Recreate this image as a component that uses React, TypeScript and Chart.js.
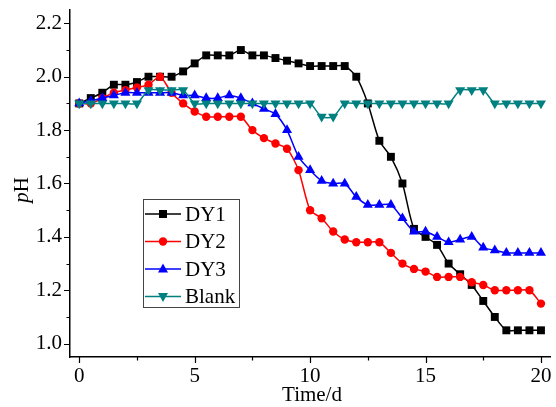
import { useEffect, useRef } from 'react';
import { Chart, registerables } from 'chart.js';

Chart.register(...registerables);

const FONT = '"Liberation Serif", "Times New Roman", serif';

const timeDays = [
  0, 0.5, 1, 1.5, 2, 2.5, 3, 3.5, 4, 4.5,
  5, 5.5, 6, 6.5, 7, 7.5, 8, 8.5, 9, 9.5,
  10, 10.5, 11, 11.5, 12, 12.5, 13, 13.5, 14, 14.5,
  15, 15.5, 16, 16.5, 17, 17.5, 18, 18.5, 19, 19.5, 20,
];

const dy1 = [
  1.90, 1.92, 1.94, 1.97, 1.97, 1.98, 2.00, 2.00, 2.00, 2.02,
  2.05, 2.08, 2.08, 2.08, 2.10, 2.08, 2.08, 2.07, 2.06, 2.05,
  2.04, 2.04, 2.04, 2.04, 2.00, 1.90, 1.76, 1.70, 1.60, 1.43,
  1.40, 1.37, 1.30, 1.26, 1.22, 1.16, 1.10, 1.05, 1.05, 1.05, 1.05,
];

const dy2 = [
  1.90, 1.90, 1.92, 1.94, 1.95, 1.96, 1.97, 2.00, 1.94, 1.90,
  1.87, 1.85, 1.85, 1.85, 1.85, 1.80, 1.77, 1.75, 1.73, 1.65,
  1.50, 1.47, 1.42, 1.39, 1.38, 1.38, 1.38, 1.34, 1.30, 1.28,
  1.27, 1.25, 1.25, 1.25, 1.23, 1.22, 1.20, 1.20, 1.20, 1.20, 1.15,
];

const dy3 = [
  1.90, 1.91, 1.92, 1.93, 1.94, 1.94, 1.94, 1.94, 1.94, 1.93,
  1.93, 1.92, 1.92, 1.93, 1.92, 1.90, 1.88, 1.86, 1.80, 1.70,
  1.65, 1.61, 1.60, 1.60, 1.55, 1.52, 1.52, 1.52, 1.47, 1.42,
  1.42, 1.40, 1.38, 1.39, 1.40, 1.36, 1.35, 1.34, 1.34, 1.34, 1.34,
];

const blank = [
  1.90, 1.90, 1.90, 1.90, 1.90, 1.90, 1.95, 1.95, 1.95, 1.95,
  1.90, 1.90, 1.90, 1.90, 1.90, 1.90, 1.90, 1.90, 1.90, 1.90,
  1.90, 1.85, 1.85, 1.90, 1.90, 1.90, 1.90, 1.90, 1.90, 1.90,
  1.90, 1.90, 1.90, 1.95, 1.95, 1.95, 1.90, 1.90, 1.90, 1.90, 1.90,
];

const seriesNames = ['DY1', 'DY2', 'DY3', 'Blank'];
const seriesColors = ['#000000', '#ff0000', '#0000ff', '#008080'];
const seriesMarkers = ['rect', 'circle', 'triangle', 'triangleDown'];
const seriesValues = [dy1, dy2, dy3, blank];

const xMajorTicks = [0, 5, 10, 15, 20];
const xMinorTicks = [2.5, 7.5, 12.5, 17.5];
const yMajorTicks = [1.0, 1.2, 1.4, 1.6, 1.8, 2.0, 2.2];
const yMinorTicks = [1.1, 1.3, 1.5, 1.7, 1.9, 2.1];

const xTitle = 'Time/d';
const yTitleItalic = 'p';
const yTitleRest = 'H';

function drawMarker(ctx: CanvasRenderingContext2D, kind: string, x: number, y: number, color: string) {
  ctx.fillStyle = color;
  ctx.beginPath();
  if (kind === 'rect') {
    ctx.rect(x - 4, y - 4, 8, 8);
  } else if (kind === 'circle') {
    ctx.arc(x, y, 4.2, 0, Math.PI * 2);
  } else if (kind === 'triangle') {
    ctx.moveTo(x, y - 5.5);
    ctx.lineTo(x + 5, y + 3.5);
    ctx.lineTo(x - 5, y + 3.5);
    ctx.closePath();
  } else {
    ctx.moveTo(x, y + 5.5);
    ctx.lineTo(x + 5, y - 3.5);
    ctx.lineTo(x - 5, y - 3.5);
    ctx.closePath();
  }
  ctx.fill();
}

const decorPlugin = {
  id: 'decor',
  afterDraw(chart: any) {
    const ctx: CanvasRenderingContext2D = chart.ctx;
    const xs = chart.scales.x;
    const ys = chart.scales.y;
    const { left, bottom } = chart.chartArea;
    ctx.save();
    ctx.strokeStyle = '#000';
    ctx.lineWidth = 1.2;
    ctx.beginPath();
    xMajorTicks.forEach((v) => {
      const px = Math.round(xs.getPixelForValue(v)) + 0.5;
      ctx.moveTo(px, bottom);
      ctx.lineTo(px, bottom + 6);
    });
    xMinorTicks.forEach((v) => {
      const px = Math.round(xs.getPixelForValue(v)) + 0.5;
      ctx.moveTo(px, bottom);
      ctx.lineTo(px, bottom + 3.5);
    });
    yMajorTicks.forEach((v) => {
      const py = Math.round(ys.getPixelForValue(v)) + 0.5;
      ctx.moveTo(left, py);
      ctx.lineTo(left - 6, py);
    });
    yMinorTicks.forEach((v) => {
      const py = Math.round(ys.getPixelForValue(v)) + 0.5;
      ctx.moveTo(left, py);
      ctx.lineTo(left - 3.5, py);
    });
    ctx.stroke();

    // axis titles
    ctx.fillStyle = '#000';
    ctx.textBaseline = 'middle';
    ctx.textAlign = 'center';
    ctx.font = `21px ${FONT}`;
    ctx.fillText(xTitle, 312, 395);

    ctx.save();
    ctx.translate(22, 190);
    ctx.rotate(-Math.PI / 2);
    ctx.textAlign = 'left';
    ctx.font = `italic 21px ${FONT}`;
    const w1 = ctx.measureText(yTitleItalic).width;
    ctx.font = `21px ${FONT}`;
    const w2 = ctx.measureText(yTitleRest).width;
    const start = -(w1 + w2) / 2;
    ctx.font = `italic 21px ${FONT}`;
    ctx.fillText(yTitleItalic, start, 0);
    ctx.font = `21px ${FONT}`;
    ctx.fillText(yTitleRest, start + w1, 0);
    ctx.restore();

    // legend
    const bx = 143.5, by = 199.5, bw = 96, bh = 108;
    ctx.fillStyle = '#fff';
    ctx.fillRect(bx, by, bw, bh);
    ctx.strokeStyle = '#444';
    ctx.lineWidth = 1;
    ctx.strokeRect(bx, by, bw, bh);
    ctx.font = `21px ${FONT}`;
    ctx.textAlign = 'left';
    ctx.textBaseline = 'middle';
    seriesNames.forEach((name, i) => {
      const ry = 214 + i * 27.5;
      ctx.strokeStyle = seriesColors[i];
      ctx.lineWidth = 1.5;
      ctx.beginPath();
      ctx.moveTo(145, ry);
      ctx.lineTo(181, ry);
      ctx.stroke();
      drawMarker(ctx, seriesMarkers[i], 163, ry, seriesColors[i]);
      ctx.fillStyle = '#000';
      ctx.fillText(name, 185, ry + 1);
    });
    ctx.restore();
  },
};

export default function App() {
  const ref = useRef<HTMLCanvasElement | null>(null);

  useEffect(() => {
    if (!ref.current) return;
    const pointStyles: any = {
      rect: { style: 'rect', radius: 5.6, rotation: 0 },
      circle: { style: 'circle', radius: 4.2, rotation: 0 },
      triangle: { style: 'triangle', radius: 5.8, rotation: 0 },
      triangleDown: { style: 'triangle', radius: 5.8, rotation: 180 },
    };
    const datasets = seriesNames.map((name, i) => {
      const ps = pointStyles[seriesMarkers[i]];
      return {
        label: name,
        data: timeDays.map((t, j) => ({ x: t, y: seriesValues[i][j] })),
        borderColor: seriesColors[i],
        backgroundColor: seriesColors[i],
        borderWidth: 1.5,
        pointStyle: ps.style,
        pointRadius: ps.radius,
        pointRotation: ps.rotation,
        pointBorderWidth: 0,
        pointBackgroundColor: seriesColors[i],
        tension: 0.25,
        order: 3 - i,
        clip: false as any,
      };
    });

    const chart = new Chart(ref.current, {
      type: 'line',
      data: { datasets },
      options: {
        animation: false,
        responsive: false,
        devicePixelRatio: 1,
        layout: { padding: { left: 0, right: 4, top: 10, bottom: 0 } },
        plugins: { legend: { display: false }, tooltip: { enabled: false } },
        scales: {
          x: {
            type: 'linear',
            min: -0.4,
            max: 20.4,
            afterFit: (s: any) => { s.height = 50; s.paddingLeft = 0; s.paddingRight = 0; },
            afterBuildTicks: (s: any) => { s.ticks = xMajorTicks.map((v) => ({ value: v })); },
            grid: { display: true, drawOnChartArea: false, drawTicks: false },
            border: { display: true, color: '#000', width: 1.5 },
            ticks: {
              color: '#000',
              font: { family: FONT, size: 21 },
              padding: 7,
              maxRotation: 0,
              callback: (v: any) => String(v),
            },
          },
          y: {
            type: 'linear',
            min: 0.95,
            max: 2.25,
            afterFit: (s: any) => { s.width = 70; s.paddingTop = 0; s.paddingBottom = 0; },
            afterBuildTicks: (s: any) => { s.ticks = yMajorTicks.map((v) => ({ value: v })); },
            grid: { display: true, drawOnChartArea: false, drawTicks: false },
            border: { display: true, color: '#000', width: 1.5 },
            ticks: {
              color: '#000',
              font: { family: FONT, size: 21 },
              padding: 8,
              callback: (v: any) => Number(v).toFixed(1),
            },
          },
        },
      },
      plugins: [decorPlugin],
    });
    return () => chart.destroy();
  }, []);

  return (
    <div style={{ position: 'absolute', left: 0, top: 0, width: 556, height: 407, background: '#fff' }}>
      <canvas ref={ref} width={556} height={407} />
    </div>
  );
}
